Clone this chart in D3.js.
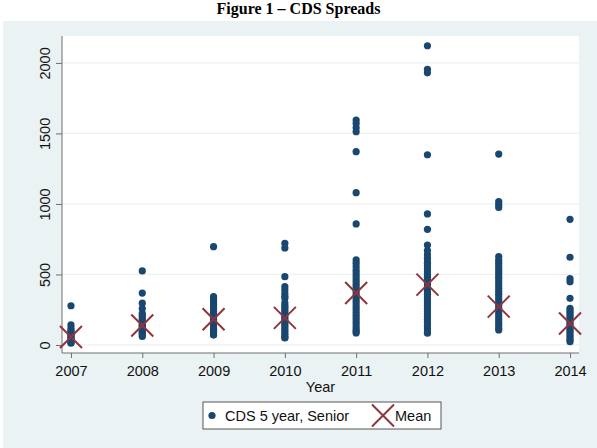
<!DOCTYPE html>
<html>
<head>
<meta charset="utf-8">
<script src="https://cdn.jsdelivr.net/npm/d3@7"></script>
<style>
    body { margin: 0; background: #ffffff; }
    svg { display: block; font-family: "Liberation Sans", Arial, sans-serif; }
</style>
</head>
<body>
<div id="chart"></div>
<script>
// years on the x axis
const years = [2007, 2008, 2009, 2010, 2011, 2012, 2013, 2014];

// CDS 5 year senior spreads per year
const spreads2007 = [278, 142, 120, 106, 95, 85, 75, 65, 55, 45, 35, 25, 18, 12];
const spreads2008 = [525, 368, 296, 258, 225, 210, 195, 180, 165, 150, 140, 130, 120, 110, 100, 90, 80, 70, 60];
const spreads2009 = [697, 343, 330, 315, 300, 285, 270, 255, 240, 225, 210, 195, 180, 165, 150, 135, 120, 105, 90, 75, 70];
const spreads2010 = [721, 688, 484, 413, 390, 365, 345, 331, 298, 280, 265, 250, 235, 220, 205, 190, 175, 160, 145, 130, 115, 100, 85, 70, 55, 50];
const spreads2011 = [1595, 1570, 1540, 1512, 1371, 1080, 858, 603, 580, 555, 530, 510, 490, 470, 450, 430, 410, 390, 370, 350, 330, 310, 290, 270, 250, 230, 210, 190, 170, 150, 130, 110, 95, 85];
const spreads2012 = [2122, 1955, 1930, 1349, 929, 820, 709, 670, 640, 615, 590, 579, 560, 540, 520, 500, 480, 460, 440, 420, 400, 380, 360, 340, 320, 300, 280, 260, 240, 220, 200, 180, 160, 140, 120, 100, 83];
const spreads2013 = [1354, 1016, 995, 975, 626, 600, 580, 560, 540, 520, 500, 480, 460, 440, 420, 400, 380, 360, 340, 320, 300, 280, 260, 240, 220, 200, 180, 160, 140, 120, 106];
const spreads2014 = [891, 622, 470, 449, 331, 260, 245, 230, 215, 200, 185, 170, 155, 140, 125, 110, 95, 80, 65, 50, 35, 23];

// yearly mean spread
const means = [57, 138, 182, 192, 368, 428, 272, 152];

const yTicks = [0, 500, 1000, 1500, 2000];

const spreadsByYear = [spreads2007, spreads2008, spreads2009, spreads2010,
    spreads2011, spreads2012, spreads2013, spreads2014];

const points = [];
years.forEach((yr, i) => spreadsByYear[i].forEach(v => points.push({ year: yr, value: v })));

const width = 597,
    height = 448,
    navy = "#1a476f",
    maroon = "#90353b",
    bg = "#eaf2f3",
    margin = { left: 62, right: 18, top: 36, bottom: 95 };

const xScale = d3.scaleLinear()
    .domain([2006.874, 2014.126])
    .range([margin.left, width - margin.right]);

const yScale = d3.scaleLinear()
    .domain([-57, 2191])
    .range([height - margin.bottom, margin.top]);

const svg = d3.select("#chart").append("svg")
    .attr("width", width)
    .attr("height", height);

// outer graph region
svg.append("rect")
    .attr("x", 3).attr("y", 21)
    .attr("width", width - 3).attr("height", height - 21)
    .attr("fill", bg);

// plot region
svg.append("rect")
    .attr("x", margin.left).attr("y", margin.top)
    .attr("width", width - margin.right - margin.left)
    .attr("height", height - margin.bottom - margin.top)
    .attr("fill", "#ffffff");

// title
svg.append("text")
    .attr("x", width / 2).attr("y", 14)
    .attr("text-anchor", "middle")
    .style("font-family", "'Liberation Serif', 'Times New Roman', serif")
    .style("font-weight", "bold")
    .style("font-size", "16px")
    .text("Figure 1 \u2013 CDS Spreads");

// gridlines
svg.append("g")
    .selectAll("line")
    .data(yTicks)
    .join("line")
    .attr("x1", margin.left + 1).attr("x2", width - margin.right)
    .attr("y1", d => yScale(d)).attr("y2", d => yScale(d))
    .attr("stroke", bg)
    .attr("stroke-width", 1.2);

// axes
const xAxis = d3.axisBottom(xScale).tickValues(years).tickFormat(d3.format("d")).tickSize(5).tickPadding(8);
const yAxis = d3.axisLeft(yScale).tickValues(yTicks).tickFormat(d3.format("d")).tickSize(6).tickPadding(5);

const gx = svg.append("g")
    .attr("transform", "translate(0," + (height - margin.bottom) + ")")
    .call(xAxis);
gx.select(".domain").attr("d", "M" + margin.left + ",0H" + (width - margin.right));

const gy = svg.append("g")
    .attr("transform", "translate(" + margin.left + ",0)")
    .call(yAxis);
gy.select(".domain").attr("d", "M0," + margin.top + "V" + (height - margin.bottom));

[gx, gy].forEach(g => {
    g.selectAll(".domain, line").attr("stroke", "#6e6e6e");
    g.selectAll("text").attr("fill", "#111").style("font-size", "14.5px").style("font-family", "'Liberation Sans', Arial, sans-serif");
});

// rotate y labels like stata
gy.selectAll(".tick text")
    .attr("text-anchor", "middle")
    .attr("x", 0).attr("dy", 0)
    .attr("transform", "translate(-12,0) rotate(-90)");

// x title
svg.append("text")
    .attr("x", (margin.left + width - margin.right) / 2)
    .attr("y", 392)
    .attr("text-anchor", "middle")
    .style("font-size", "14.5px")
    .attr("fill", "#111")
    .text("Year");

// markers
svg.append("g")
    .selectAll("circle")
    .data(points)
    .join("circle")
    .attr("cx", d => xScale(d.year))
    .attr("cy", d => yScale(d.value))
    .attr("r", 3.6)
    .attr("fill", navy);

function drawX(g, cx, cy, s) {
    g.append("path")
        .attr("d", "M" + (cx - s) + "," + (cy - s) + "L" + (cx + s) + "," + (cy + s) +
            "M" + (cx - s) + "," + (cy + s) + "L" + (cx + s) + "," + (cy - s))
        .attr("stroke", maroon)
        .attr("stroke-width", 2)
        .attr("fill", "none");
}

const meanG = svg.append("g");
years.forEach((yr, i) => drawX(meanG, xScale(yr), yScale(means[i]), 11));

// legend
const legend = svg.append("g");
legend.append("rect")
    .attr("x", 203).attr("y", 402)
    .attr("width", 238).attr("height", 27)
    .attr("fill", "#ffffff")
    .attr("stroke", "#555")
    .attr("stroke-width", 1);
legend.append("circle")
    .attr("cx", 212).attr("cy", 415.5)
    .attr("r", 3.6)
    .attr("fill", navy);
legend.append("text")
    .attr("x", 225).attr("y", 420.5)
    .style("font-size", "14.5px")
    .attr("fill", "#111")
    .text("CDS 5 year, Senior");
drawX(legend, 383, 415.5, 11);
legend.append("text")
    .attr("x", 395).attr("y", 420.5)
    .style("font-size", "14.5px")
    .attr("fill", "#111")
    .text("Mean");
</script>
</body>
</html>
